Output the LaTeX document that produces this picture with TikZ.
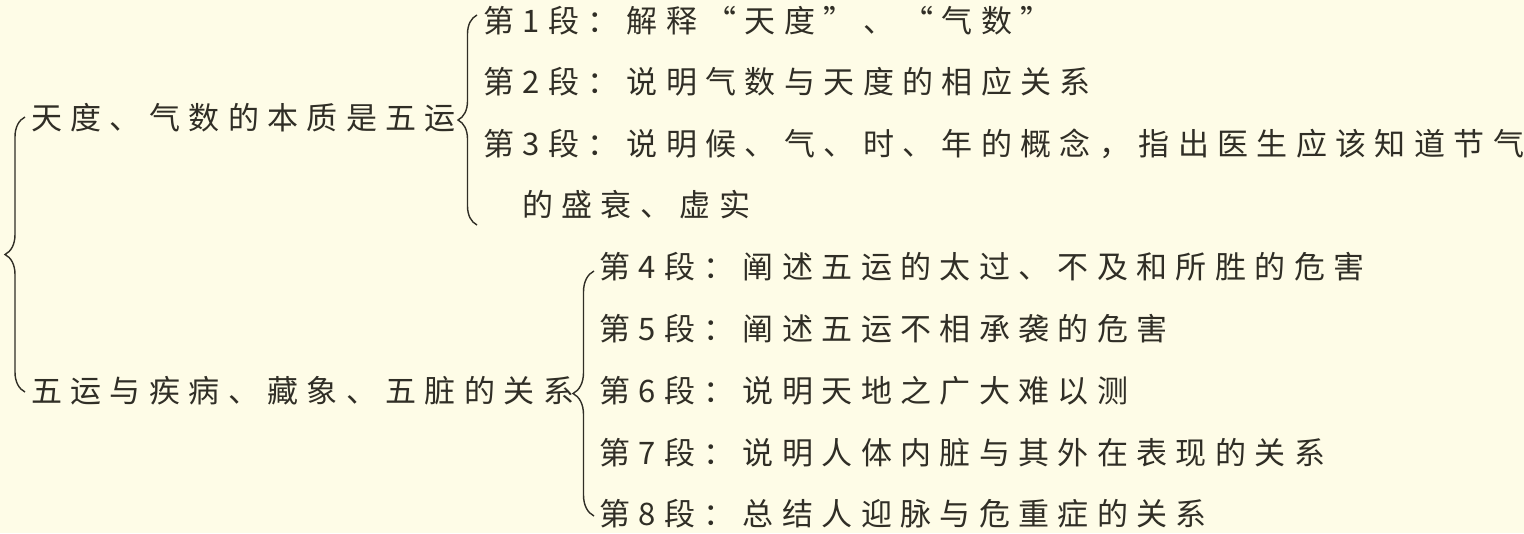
\documentclass[tikz,border=0pt]{standalone}
\usepackage{fontspec}
\setmainfont{Noto Sans CJK SC}[LetterSpace=27]
\usetikzlibrary{decorations.pathreplacing}
\definecolor{paper}{RGB}{254,252,231}
\definecolor{ink}{RGB}{48,46,38}

\begin{document}
\begin{tikzpicture}
[x=1pt, y=-1pt,
every node/.style={anchor=west, inner sep=0pt, text=ink, font=\fontsize{31}{37}\selectfont},
brc/.style={draw=ink, line width=1.4pt, decorate, decoration={brace, amplitude=#1}}]
\fill[paper] (0,0) rectangle (1524,533);
\useasboundingbox (0,0) rectangle (1524,533);
\node (g1) at (31,118) {天度、气数的本质是五运};
\node (g2) at (31,391) {五运与疾病、藏象、五脏的关系};
\node (p1) at (483,21) {第1段：解释“天度”、“气数”};
\node (p2) at (483,82) {第2段：说明气数与天度的相应关系};
\node (p3) at (483,144) {第3段：说明候、气、时、年的概念，指出医生应该知道节气};
\node (p3b) at (522,205) {的盛衰、虚实};
\node (p4) at (599,267) {第4段：阐述五运的太过、不及和所胜的危害};
\node (p5) at (599,329) {第5段：阐述五运不相承袭的危害};
\node (p6) at (599,391) {第6段：说明天地之广大难以测};
\node (p7) at (599,453) {第7段：说明人体内脏与其外在表现的关系};
\node (p8) at (599,514) {第8段：总结人迎脉与危重症的关系};
\coordinate (b0t) at (25,117);
\coordinate (b0b) at (25,392);
\coordinate (b1t) at ([xshift=-6pt]p1.west |- 0,15);
\coordinate (b1b) at ([xshift=-6pt]p1.west |- 0,225);
\coordinate (b2t) at ([xshift=-5pt]p4.west |- 0,271);
\coordinate (b2b) at ([xshift=-5pt]p4.west |- 0,516);
\draw[brc=20pt] (b0b) -- (b0t);
\draw[brc=19pt] (b1b) -- (b1t);
\draw[brc=21pt] (b2b) -- (b2t);
\end{tikzpicture}
\end{document}
